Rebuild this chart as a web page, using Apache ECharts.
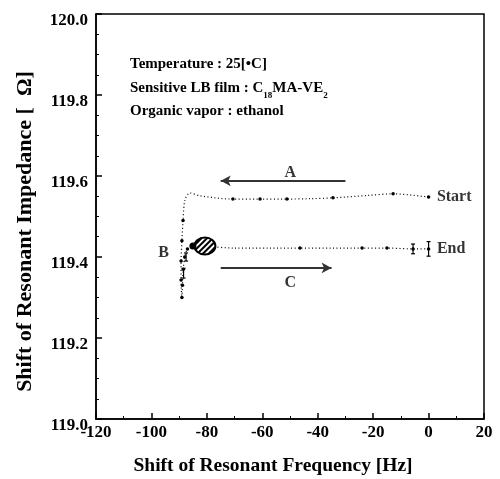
<!DOCTYPE html>
<html>
<head>
<meta charset="utf-8">
<script src="https://cdn.jsdelivr.net/npm/echarts@6/dist/echarts.min.js"></script>
<style>
  html, body { margin: 0; padding: 0; background: #fff; }
  #chart { width: 500px; height: 479px; }
</style>
</head>
<body>
<div id="chart"></div>
<script>
// Impedance vs frequency shift trajectory during ethanol exposure
const freqShift = [0, -12.8, -22, -34.5, -43, -51.1, -60.8, -70.6, -82.5, -86.1, -87.9, -88.6, -89.0, -89.3, -89.3, -89.0,
                   -88.8, -88.5, -88.0, -87.0, -85.0, -80.7, -70, -58, -46.4, -35, -24, -15, -5.6, 0];
const impedance = [119.548, 119.556, 119.552, 119.546, 119.544, 119.543, 119.543, 119.543, 119.551, 119.558, 119.541, 119.49, 119.44, 119.39, 119.343, 119.30,
                   119.33, 119.37, 119.40, 119.42, 119.43, 119.427, 119.422, 119.422, 119.422, 119.422, 119.422, 119.422, 119.420, 119.420];
const markedPoint = [1, 1, 0, 1, 0, 1, 1, 1, 0, 0, 0, 1, 1, 1, 1, 1,
                     1, 1, 1, 1, 1, 0, 0, 0, 1, 0, 1, 1, 1, 1];

// Final adsorption cluster (hatched disk)
const clusterX = [-80.7];
const clusterY = [119.427];

// Error bars: x, y, half-height
const errX = [0, -5.6, -88.4, -87.5];
const errY = [119.420, 119.420, 119.36, 119.40];
const errHalf = [0.018, 0.012, 0.012, 0.01];

// Path annotations
const noteNames = ['A', 'B', 'C', 'Start', 'End'];
const noteX = [-52, -97.5, -52, 3, 3];
const noteY = [119.607, 119.41, 119.335, 119.548, 119.42];
const arrowA = [[-30, 119.588], [-75, 119.588]];
const arrowC = [[-75, 119.373], [-35, 119.373]];

const xTicks = { min: -120, max: 20, interval: 20 };
const yTicks = { min: 119.0, max: 120.0, interval: 0.2 };

const serif = 'Liberation Serif';
const chart = echarts.init(document.getElementById('chart'), null, { renderer: 'canvas' });

const lineData = freqShift.map((x, i) => ({
  value: [x, impedance[i]],
  symbolSize: markedPoint[i] ? 3.5 : 0
}));

chart.setOption({
  animation: false,
  backgroundColor: '#fff',
  grid: { left: 96, right: 16, top: 14, bottom: 60, containLabel: false, outerBoundsMode: 'none',
          show: true, borderColor: '#000', borderWidth: 1.5 },
  xAxis: {
    type: 'value', min: xTicks.min, max: xTicks.max, interval: xTicks.interval,
    name: 'Shift of Resonant Frequency [Hz]', nameLocation: 'middle', nameGap: 37,
    nameTextStyle: { fontFamily: serif, fontWeight: 'bold', fontSize: 19.5, color: '#000', padding: [0, 34, 0, 0] },
    axisLine: { onZero: false, lineStyle: { color: '#000', width: 1.5 } },
    axisTick: { inside: true, length: 6, lineStyle: { color: '#000', width: 1.5 } },
    minorTick: { show: true, splitNumber: 2, length: 3, lineStyle: { color: '#000', width: 1 } },
    axisLabel: { fontFamily: serif, fontWeight: 'bold', fontSize: 17, color: '#000', margin: 5 },
    splitLine: { show: false }
  },
  yAxis: {
    type: 'value', min: yTicks.min, max: yTicks.max, interval: yTicks.interval,
    name: 'Shift of Resonant Impedance [  Ω]', nameLocation: 'middle', nameGap: 60,
    nameTextStyle: { fontFamily: serif, fontWeight: 'bold', fontSize: 22, color: '#000', padding: [0, 30, 0, 0] },
    axisLine: { onZero: false, lineStyle: { color: '#000', width: 1.5 } },
    axisTick: { inside: true, length: 6, lineStyle: { color: '#000', width: 1.5 } },
    minorTick: { show: true, splitNumber: 4, length: 3, lineStyle: { color: '#000', width: 1 } },
    axisLabel: {
      margin: 8, verticalAlign: 'top', lineHeight: 13,
      fontFamily: serif, fontWeight: 'bold', fontSize: 17, color: '#000',
      formatter: v => v.toFixed(1)
    },
    splitLine: { show: false }
  },
  graphic: [{
    type: 'text', left: 130, top: 57,
    style: {
      text: '{b|Temperature : 25[•C]}\n{b|Sensitive LB film : C}{s|18}{b|MA-VE}{s|2}\n{b|Organic vapor : ethanol}',
      rich: {
        b: { fontFamily: serif, fontWeight: 'bold', fontSize: 15, fill: '#000', lineHeight: 23.5 },
        s: { fontFamily: serif, fontWeight: 'bold', fontSize: 9, fill: '#000', lineHeight: 23.5, verticalAlign: 'bottom', padding: [7, 0, 0, 0] }
      }
    }
  }],
  series: [
    {
      type: 'line', data: lineData, smooth: 0.3, symbol: 'circle',
      itemStyle: { color: '#000' },
      lineStyle: { color: '#000', width: 1.2, type: [1, 2.5] },
      z: 3,
      markLine: {
        silent: true, symbol: ['none', 'arrow'], symbolSize: [8, 10],
        lineStyle: { color: '#333', width: 1.8, type: 'solid' },
        label: { show: false },
        data: [
          [{ coord: arrowA[0] }, { coord: arrowA[1] }],
          [{ coord: arrowC[0] }, { coord: arrowC[1] }]
        ]
      }
    },
    {
      type: 'custom', z: 5,
      data: clusterX.map((x, i) => [x, clusterY[i]]),
      renderItem: (params, api) => {
        const c = api.coord([api.value(0), api.value(1)]);
        const rx = 10.5, ry = 8.5;
        const hatch = [];
        for (let k = -rx + 2.5; k < rx; k += 4) {
          // diagonal chords across the disk
          const ux = Math.SQRT1_2, uy = -Math.SQRT1_2;
          const nx = Math.SQRT1_2, ny = Math.SQRT1_2;
          const cx = nx * k, cy = ny * k;
          // intersection of the chord line with the ellipse outline
          const a = (ux * ux) / (rx * rx) + (uy * uy) / (ry * ry);
          const b = 2 * ((cx * ux) / (rx * rx) + (cy * uy) / (ry * ry));
          const cc = (cx * cx) / (rx * rx) + (cy * cy) / (ry * ry) - 1;
          const disc = b * b - 4 * a * cc;
          if (disc <= 0) continue;
          const t1 = (-b - Math.sqrt(disc)) / (2 * a), t2 = (-b + Math.sqrt(disc)) / (2 * a);
          hatch.push({
            type: 'line',
            shape: { x1: c[0] + cx + ux * t1, y1: c[1] + cy + uy * t1,
                     x2: c[0] + cx + ux * t2, y2: c[1] + cy + uy * t2 },
            style: { stroke: '#000', lineWidth: 2 }
          });
        }
        return {
          type: 'group',
          children: [
            { type: 'ellipse', shape: { cx: c[0], cy: c[1], rx: rx, ry: ry }, style: { fill: '#fff', stroke: '#000', lineWidth: 2 } },
            ...hatch,
            { type: 'circle', shape: { cx: c[0] - 12, cy: c[1], r: 3.5 }, style: { fill: '#000' } }
          ]
        };
      }
    },
    {
      type: 'custom', z: 4,
      data: errX.map((x, i) => [x, errY[i], errHalf[i]]),
      renderItem: (params, api) => {
        const x = api.value(0), y = api.value(1), h = api.value(2);
        const top = api.coord([x, y + h]);
        const bot = api.coord([x, y - h]);
        return {
          type: 'group',
          children: [
            { type: 'line', shape: { x1: top[0], y1: top[1], x2: bot[0], y2: bot[1] }, style: { stroke: '#000', lineWidth: 1.2 } },
            { type: 'line', shape: { x1: top[0] - 2, y1: top[1], x2: top[0] + 2, y2: top[1] }, style: { stroke: '#000', lineWidth: 1.2 } },
            { type: 'line', shape: { x1: bot[0] - 2, y1: bot[1], x2: bot[0] + 2, y2: bot[1] }, style: { stroke: '#000', lineWidth: 1.2 } }
          ]
        };
      }
    },
    {
      type: 'scatter', symbolSize: 0, z: 6,
      data: noteNames.map((n, i) => ({ name: n, value: [noteX[i], noteY[i]] })),
      label: {
        show: true, position: 'right', distance: 0,
        formatter: p => p.name,
        fontFamily: serif, fontWeight: 'bold', fontSize: 16, color: '#000'
      }
    }
  ]
});
</script>
</body>
</html>
